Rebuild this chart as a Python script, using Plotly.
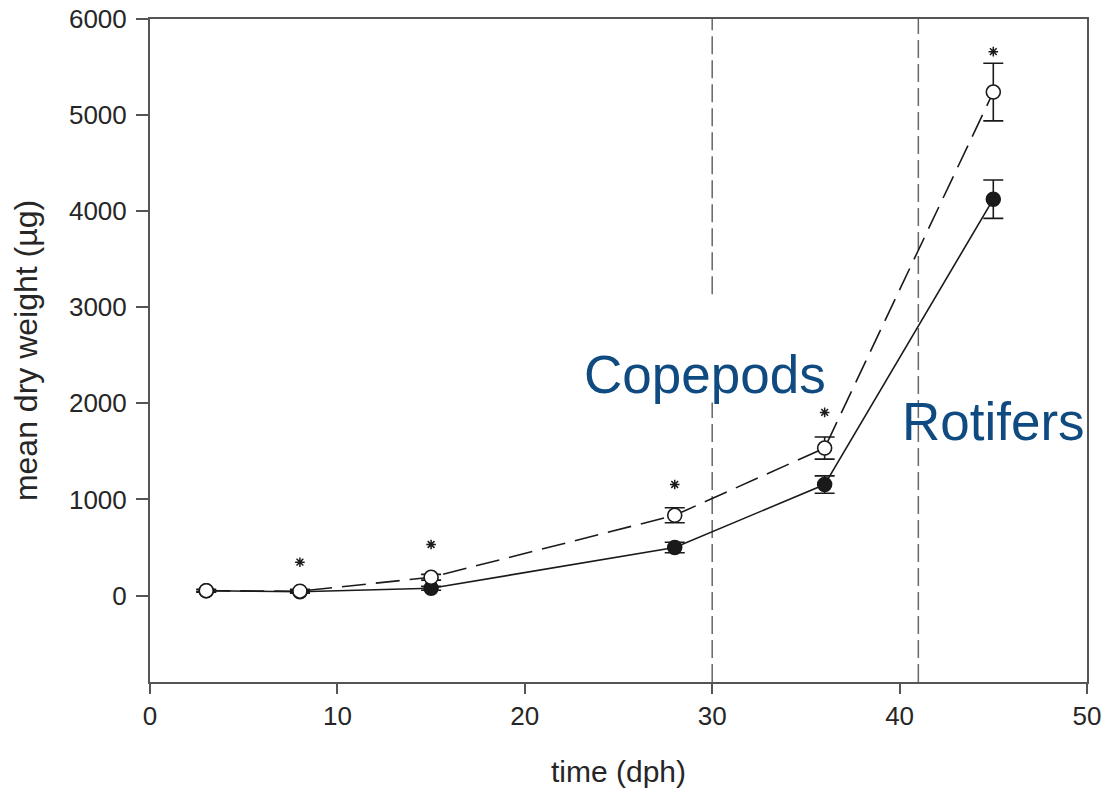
import plotly.graph_objects as go

# Sampling days (days post hatch)
days = [3, 8, 15, 28, 36, 45]

# Mean dry weight (µg) and error for each diet
copepod_weight = [50, 45, 190, 835, 1535, 5240]
copepod_err = [15, 20, 30, 78, 115, 300]
rotifer_weight = [50, 40, 75, 500, 1155, 4125]
rotifer_err = [10, 10, 20, 55, 90, 200]

# Significance markers above the copepod series
star_days = [8, 15, 28, 36, 45]
star_levels = [347, 531, 1156, 1906, 5660]

# Diet switch days
switch_days = [30, 41]

x_ticks = [0, 10, 20, 30, 40, 50]
y_ticks = [0, 1000, 2000, 3000, 4000, 5000, 6000]

FONT = "Arial, Liberation Sans, sans-serif"
INK = "#1a1a1a"
AXIS = "#555555"
TEXT = "#262626"

fig = go.Figure()

# Rotifer-fed series: solid line, filled circles
fig.add_trace(go.Scatter(
    x=days, y=rotifer_weight, mode="lines+markers",
    line=dict(color=INK, width=1.6),
    marker=dict(symbol="circle", size=14, color=INK, line=dict(color=INK, width=1.5)),
    error_y=dict(type="data", array=rotifer_err, visible=True, color=INK, thickness=1.6, width=10),
    showlegend=False,
))

# Copepod-fed series: dashed line, open circles
fig.add_trace(go.Scatter(
    x=days, y=copepod_weight, mode="lines+markers",
    line=dict(color=INK, width=1.6, dash="24px,10px"),
    marker=dict(symbol="circle", size=14, color="white", line=dict(color=INK, width=1.6)),
    error_y=dict(type="data", array=copepod_err, visible=True, color=INK, thickness=1.6, width=10),
    showlegend=False,
))

# Asterisks
fig.add_trace(go.Scatter(
    x=star_days, y=star_levels, mode="markers",
    marker=dict(symbol="asterisk-open", size=8, color=INK, line=dict(color=INK, width=1.5)),
    showlegend=False,
))

# Vertical dashed lines marking diet switches; the first one is broken under its label
fig.add_shape(type="line", x0=switch_days[0], x1=switch_days[0], y0=-900, y1=2010,
              line=dict(color="#666666", width=1.5, dash="18px,6px"), layer="below")
fig.add_shape(type="line", x0=switch_days[0], x1=switch_days[0], y0=3135, y1=6000,
              line=dict(color="#666666", width=1.5, dash="18px,6px"), layer="below")
fig.add_shape(type="line", x0=switch_days[1], x1=switch_days[1], y0=-900, y1=6000,
              line=dict(color="#666666", width=1.5, dash="18px,6px"), layer="below")

LABEL_BLUE = "#0f4a80"
fig.add_annotation(x=29.6, y=2300, text="Copepods", showarrow=False,
                   xanchor="center", yanchor="middle",
                   font=dict(family=FONT, size=53, color=LABEL_BLUE))
fig.add_annotation(x=45.0, y=1810, text="Rotifers", showarrow=False,
                   xanchor="center", yanchor="middle",
                   font=dict(family=FONT, size=53, color=LABEL_BLUE))

fig.update_layout(
    width=1114, height=791,
    margin=dict(l=150, r=27, t=19, b=109),
    paper_bgcolor="white", plot_bgcolor="white",
    font=dict(family=FONT, color=TEXT),
)

fig.update_xaxes(
    range=[0, 50], tickvals=x_ticks, ticktext=[str(v) for v in x_ticks],
    showgrid=False, zeroline=False, automargin=False,
    showline=True, linecolor=AXIS, linewidth=2, mirror=True,
    ticks="outside", ticklen=10, tickwidth=1.5, tickcolor=AXIS,
    tickfont=dict(family=FONT, size=26, color=TEXT),
    title=dict(text="time (dph)", font=dict(family=FONT, size=30, color=TEXT), standoff=31),
)
fig.update_yaxes(
    range=[-900, 6000], tickvals=y_ticks, ticktext=[str(v) for v in y_ticks],
    showgrid=False, zeroline=False, automargin=False,
    showline=True, linecolor=AXIS, linewidth=2, mirror=True,
    ticks="outside", ticklen=12, tickwidth=1.5, tickcolor=AXIS, ticklabelstandoff=4,
    tickfont=dict(family=FONT, size=26, color=TEXT),
    title=dict(text="mean dry weight (µg)", font=dict(family=FONT, size=32, color=TEXT), standoff=22),
)

fig.write_html("out.html")
